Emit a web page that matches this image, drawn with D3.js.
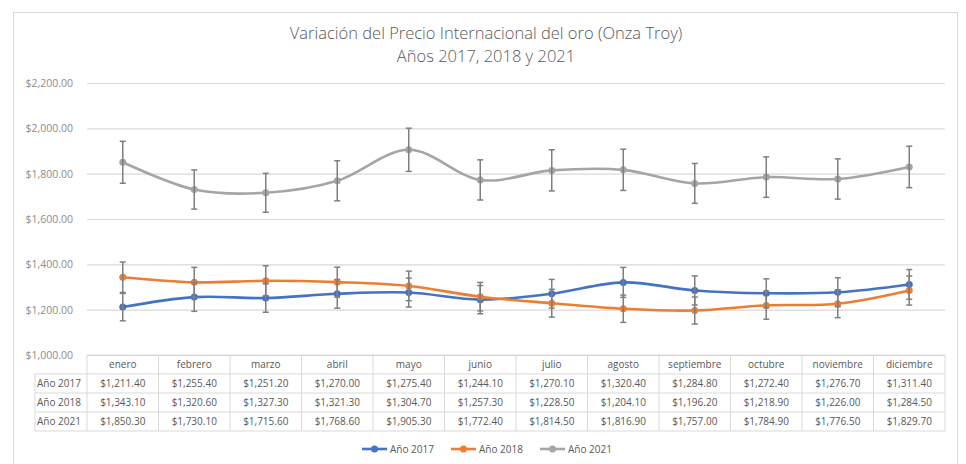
<!DOCTYPE html>
<html>
<head>
<meta charset="utf-8">
<script src="https://cdn.jsdelivr.net/npm/d3@7"></script>
<style>
  body { margin: 0; background: #fff; }
  svg text { font-family: 'Open Sans', 'Noto Sans', sans-serif; }
</style>
</head>
<body>
<div id="chart"></div>
<script>
// ---------------------------------------------------------------------------
// Data
const months = ['enero', 'febrero', 'marzo', 'abril', 'mayo', 'junio', 'julio',
  'agosto', 'septiembre', 'octubre', 'noviembre', 'diciembre'];
const seriesNames = ['Año 2017', 'Año 2018', 'Año 2021'];
const values2017 = [1211.40, 1255.40, 1251.20, 1270.00, 1275.40, 1244.10, 1270.10,
  1320.40, 1284.80, 1272.40, 1276.70, 1311.40];
const values2018 = [1343.10, 1320.60, 1327.30, 1321.30, 1304.70, 1257.30, 1228.50,
  1204.10, 1196.20, 1218.90, 1226.00, 1284.50];
const values2021 = [1850.30, 1730.10, 1715.60, 1768.60, 1905.30, 1772.40, 1814.50,
  1816.90, 1757.00, 1784.90, 1776.50, 1829.70];
const yTicks = [1000, 1200, 1400, 1600, 1800, 2000, 2200];
// percentage error bars (5%)
const errorPct = 0.05;

const colors = ['#4472C4', '#ED7D31', '#A5A5A5'];
const series = [values2017, values2018, values2021].map((vals, i) => ({
  name: seriesNames[i],
  color: colors[i],
  values: vals
}));

const width = 966;
const height = 464;
const plot = { left: 87, right: 945, top: 83, bottom: 355 };
const rowH = 19;

const svg = d3.select('#chart')
  .append('svg')
  .attr('width', width)
  .attr('height', height);

// chart frame
svg.append('rect')
  .attr('x', 13.5)
  .attr('y', 12.5)
  .attr('width', 944)
  .attr('height', 470)
  .attr('fill', '#fff')
  .attr('stroke', '#d9d9d9');

// title
const title = svg.append('text')
  .attr('x', 486)
  .attr('text-anchor', 'middle')
  .attr('fill', '#595959')
  .style('font-size', '16.5px')
  .style('font-weight', 300);
title.append('tspan').attr('x', 486).attr('y', 39)
  .text('Variación del Precio Internacional del oro (Onza Troy)');
title.append('tspan').attr('x', 486).attr('y', 62)
  .text('Años 2017, 2018 y 2021');

const x = d3.scaleBand()
  .domain(months)
  .range([plot.left, plot.right]);
const cx = m => x(m) + x.bandwidth() / 2;

const y = d3.scaleLinear()
  .domain([1000, 2200])
  .range([plot.bottom, plot.top]);

const money = d3.format('$,.2f');

// grid lines + y axis labels
const yAxis = d3.axisLeft(y)
  .tickValues(yTicks)
  .tickFormat(money)
  .tickSize(-(plot.right - plot.left))
  .tickPadding(14);
const gy = svg.append('g')
  .attr('transform', `translate(${plot.left},0)`)
  .call(yAxis);
gy.select('.domain').remove();
gy.selectAll('.tick line')
  .attr('stroke', '#d9d9d9')
  .attr('stroke-width', 1.2);
gy.selectAll('.tick text')
  .attr('fill', '#8c8c8c')
  .style('font-size', '10.5px');

// lines
const line = d3.line()
  .x((d, i) => cx(months[i]))
  .y(d => y(d))
  .curve(d3.curveCardinal.tension(0));

const seriesGroup = svg.append('g')
  .selectAll('g')
  .data(series)
  .enter()
  .append('g');

seriesGroup.append('path')
  .attr('d', d => line(d.values))
  .attr('fill', 'none')
  .attr('stroke', d => d.color)
  .attr('stroke-width', 2.6)
  .attr('stroke-linecap', 'round');

seriesGroup.selectAll('circle')
  .data(d => d.values.map((v, i) => ({ v: v, m: months[i], color: d.color })))
  .enter()
  .append('circle')
  .attr('cx', d => cx(d.m))
  .attr('cy', d => y(d.v))
  .attr('r', 3.5)
  .attr('fill', d => d.color);

// error bars
const errGroup = svg.append('g')
  .attr('stroke', '#7f7f7f')
  .attr('stroke-width', 1.5);
series.forEach(s => {
  s.values.forEach((v, i) => {
    const px = cx(months[i]);
    const lo = y(v * (1 - errorPct));
    const hi = y(v * (1 + errorPct));
    errGroup.append('line')
      .attr('x1', px).attr('x2', px)
      .attr('y1', lo).attr('y2', hi);
    [lo, hi].forEach(py => {
      errGroup.append('line')
        .attr('x1', px - 3).attr('x2', px + 3)
        .attr('y1', py).attr('y2', py);
    });
  });
});

// data table
const table = svg.append('g');
const tableLeft = 35;
const tableTop = plot.bottom;
const tableBottom = tableTop + rowH * 4;

// horizontal rules
table.append('line')
  .attr('x1', plot.left).attr('x2', plot.right)
  .attr('y1', tableTop).attr('y2', tableTop);
d3.range(1, 5).forEach(r => {
  table.append('line')
    .attr('x1', tableLeft).attr('x2', plot.right)
    .attr('y1', tableTop + r * rowH).attr('y2', tableTop + r * rowH);
});
// vertical rules
table.append('line')
  .attr('x1', tableLeft).attr('x2', tableLeft)
  .attr('y1', tableTop + rowH).attr('y2', tableBottom);
months.forEach(m => {
  table.append('line')
    .attr('x1', x(m)).attr('x2', x(m))
    .attr('y1', tableTop).attr('y2', tableBottom);
});
table.append('line')
  .attr('x1', plot.right).attr('x2', plot.right)
  .attr('y1', tableTop).attr('y2', tableBottom);
table.selectAll('line')
  .attr('stroke', '#d9d9d9')
  .attr('stroke-width', 1);

// header
table.selectAll('.month')
  .data(months)
  .enter()
  .append('text')
  .attr('class', 'month')
  .attr('x', d => cx(d))
  .attr('y', tableTop + rowH / 2 + 3.5)
  .attr('text-anchor', 'middle')
  .attr('fill', '#595959')
  .style('font-size', '10px')
  .text(d => d);

// rows
series.forEach((s, r) => {
  const rowY = tableTop + (r + 1) * rowH + rowH / 2 + 3.5;
  table.append('text')
    .attr('x', tableLeft + 2)
    .attr('y', rowY)
    .attr('fill', '#595959')
    .style('font-size', '10px')
    .text(s.name);
  table.selectAll(`.cell-${r}`)
    .data(s.values)
    .enter()
    .append('text')
    .attr('class', `cell-${r}`)
    .attr('x', (d, i) => cx(months[i]))
    .attr('y', rowY)
    .attr('text-anchor', 'middle')
    .attr('fill', '#595959')
    .style('font-size', '10px')
    .text(d => money(d));
});

// legend
const legendX = [362, 451, 540];
const legend = svg.append('g')
  .selectAll('g')
  .data(series)
  .enter()
  .append('g')
  .attr('transform', (d, i) => `translate(${legendX[i]},449)`);
legend.append('line')
  .attr('x1', 0).attr('x2', 25)
  .attr('stroke', d => d.color)
  .attr('stroke-width', 2.6);
legend.append('circle')
  .attr('cx', 12.5)
  .attr('r', 3.5)
  .attr('fill', d => d.color);
legend.append('text')
  .attr('x', 28)
  .attr('y', 3.5)
  .attr('fill', '#595959')
  .style('font-size', '10px')
  .text(d => d.name);
</script>
</body>
</html>
